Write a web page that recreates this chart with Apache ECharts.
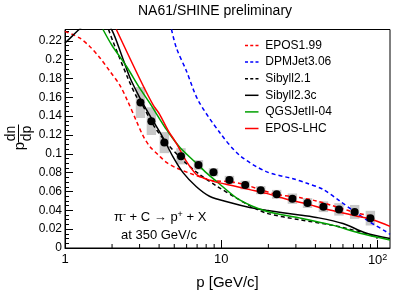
<!DOCTYPE html>
<html><head><meta charset="utf-8">
<script src="https://cdn.jsdelivr.net/npm/echarts@6/dist/echarts.min.js"></script>
<style>html,body{margin:0;padding:0;background:#fff}#c{width:407px;height:295px}</style>
</head><body><div id="c"></div>
<script>
// Measured data points (NA61/SHINE preliminary)
const dataP = [3.04,3.57,4.32,5.52,7.14,8.91,11.27,14.22,17.87,22.6,28.5,35.6,45.0,56.6,71.3,89.9];
const dataV = [0.1544,0.1347,0.1119,0.0974,0.0881,0.0804,0.0723,0.0668,0.0614,0.0570,0.0524,0.0477,0.0438,0.0410,0.0383,0.0317];
const dataSys = [0.0164,0.0147,0.0112,0.0086,0.0052,0.0043,0.0043,0.0047,0.0043,0.0047,0.0055,0.0052,0.0057,0.0066,0.0074,0.0078];

// Model predictions
const epos199P = [1.0,1.24,1.44,1.67,1.93,2.24,2.5,2.86,3.16,3.48,4.0,4.45,5.16,6.28,7.64,8.8,11.3,14.0,17.6,22.5,31.7,40.6,51.6,68.7,90];
const epos199V = [0.230,0.223,0.214,0.202,0.188,0.173,0.157,0.135,0.119,0.108,0.098,0.091,0.085,0.0794,0.0745,0.0715,0.0705,0.0675,0.0622,0.0570,0.0535,0.050,0.0449,0.0385,0.034];

const dpmP = [4.8,5.16,5.98,7.1,9.77,13.1,19.4,28.8,35,44.8,57.2,69.5,89.3,113.8,120];
const dpmV = [0.232,0.2124,0.188,0.157,0.1226,0.0984,0.0811,0.0735,0.069,0.0622,0.050,0.0398,0.0276,0.0172,0.0145];

const sib21P = [1.9,2.03,2.53,2.86,3.08,3.66,4.45,5.69,7.27,9.3,12.5,15.2,19.4,31.6,51.9,84,100];
const sib21V = [0.232,0.219,0.180,0.161,0.154,0.131,0.112,0.093,0.078,0.066,0.053,0.045,0.037,0.030,0.024,0.0155,0.0104];

const sib23P = [1.0,1.12,1.25,1.5,1.75,2.0,2.3,2.6,3.0,3.48,4.24,4.9,5.69,6.93,8.4,11.5,15.2,19.4,31.6,42,60,84,120];
const sib23V = [0.2176,0.2255,0.233,0.244,0.244,0.231,0.205,0.181,0.160,0.141,0.117,0.097,0.080,0.065,0.055,0.048,0.043,0.040,0.035,0.032,0.026,0.016,0.010];

const qgsP = [1.75,2.0,2.47,3.0,3.48,4.0,4.45,5.42,6.93,8.0,9.75,13.1,19.4,31.6,52,76,120];
const qgsV = [0.232,0.215,0.193,0.170,0.154,0.138,0.126,0.107,0.090,0.080,0.068,0.051,0.039,0.032,0.024,0.016,0.0085];

const eposLhcP = [2.13,3.0,3.66,4.03,4.56,5.16,5.98,6.93,7.5,8.8,11.9,15.2,19.4,27.4,35,45,57,73,93,120];
const eposLhcV = [0.232,0.180,0.152,0.142,0.125,0.111,0.092,0.078,0.075,0.071,0.066,0.062,0.058,0.051,0.047,0.042,0.038,0.034,0.030,0.023];

// Axis ticks
const xMinorTicks = [2,3,4,5,6,7,8,9,20,30,40,50,60,70,80,90];

const zip = (a, b) => a.map((x, i) => [x, b[i]]);
const FONT = 'Liberation Sans, Arial, Helvetica, sans-serif';
const ICON_DASH = 'path://M0,0h4v2h-4zM7,0h4v2h-4zM14,0h4v2h-4z';
const ICON_SOLID = 'path://M0,0h18v2h-18z';

const chart = echarts.init(document.getElementById('c'), null, {renderer: 'canvas'});

function model(name, P, V, color, type) {
  return {
    name, type: 'line', data: zip(P, V), showSymbol: false, symbol: 'none',
    smooth: 0.3, clip: true, z: 3,
    lineStyle: {color, width: 1.5, type: type},
    itemStyle: {color}
  };
}

const legendNames = ['EPOS1.99','DPMJet3.06','Sibyll2.1','Sibyll2.3c','QGSJetII-04','EPOS-LHC'];
const legendDashed = [true, true, true, false, false, false];

const option = {
  animation: false,
  backgroundColor: '#fff',
  textStyle: {fontFamily: FONT},
  title: {
    text: 'NA61/SHINE preliminary', top: 4, left: 138, padding: 0,
    textStyle: {fontFamily: FONT, fontSize: 14, fontWeight: 'normal', color: '#000'}
  },
  grid: {left: 65, right: 17, top: 29.5, bottom: 41.7, show: true, borderColor: '#000', borderWidth: 1, backgroundColor: 'transparent'},
  legend: {
    orient: 'vertical', left: 240, top: 34.5, itemWidth: 17, itemHeight: 1.5, itemGap: 4.6,
    data: legendNames.map((n, i) => ({name: n, icon: legendDashed[i] ? ICON_DASH : ICON_SOLID})),
    textStyle: {fontFamily: FONT, fontSize: 12, color: '#000', lineHeight: 12},
    selectedMode: false
  },
  xAxis: {
    type: 'log', logBase: 10, min: 1, max: 120,
    name: 'p [GeV/c]', nameLocation: 'middle', nameGap: 27,
    nameTextStyle: {fontFamily: FONT, fontSize: 15, color: '#000'},
    axisLine: {lineStyle: {color: '#000', width: 1}},
    axisTick: {show: true, inside: true, length: 8, lineStyle: {color: '#000'}},
    splitLine: {show: false},
    axisLabel: {
      fontFamily: FONT, fontSize: 13, color: '#000', margin: 5, showMaxLabel: false,
      formatter: v => v === 100 ? '10{s|2}' : String(v),
      rich: {s: {fontSize: 9, verticalAlign: 'top', padding: [0,0,6,0], fontFamily: FONT}}
    }
  },
  yAxis: {
    type: 'value', min: 0, max: 0.232, interval: 0.02,
    axisLine: {show: true, lineStyle: {color: '#000', width: 1}},
    axisTick: {show: true, inside: true, length: 8, lineStyle: {color: '#000'}},
    minorTick: {show: true, splitNumber: 4, length: 4, lineStyle: {color: '#000'}},
    splitLine: {show: false},
    axisLabel: {
      fontFamily: FONT, fontSize: 12, color: '#000', margin: 3, showMaxLabel: false,
      formatter: v => String(+v.toFixed(3))
    }
  },
  series: [
    {
      name: 'xticks', type: 'custom', data: xMinorTicks.map(v => [v, 0]), z: 5, silent: true,
      renderItem: (params, api) => {
        const pt = api.coord([api.value(0), 0]);
        return {type: 'line', shape: {x1: pt[0], y1: pt[1], x2: pt[0], y2: pt[1] - 4}, style: {stroke: '#000', lineWidth: 1}};
      }
    },
    {
      name: 'sys', type: 'custom', z: 1, silent: true,
      data: dataP.map((p, i) => [p, dataV[i], dataSys[i]]),
      renderItem: (params, api) => {
        const p = api.value(0), v = api.value(1), e = api.value(2);
        const top = api.coord([p, v + e]);
        const bot = api.coord([p, v - e]);
        const hw = 4.7;
        return {type: 'rect', shape: {x: top[0] - hw, y: top[1], width: 2 * hw, height: bot[1] - top[1]}, style: {fill: '#c8c8c8'}};
      }
    },
    model('EPOS1.99', epos199P, epos199V, '#ff0000', [4, 3]),
    model('DPMJet3.06', dpmP, dpmV, '#0000ff', [4, 3]),
    model('Sibyll2.1', sib21P, sib21V, '#000000', [4, 3]),
    model('Sibyll2.3c', sib23P, sib23V, '#000000', 'solid'),
    model('QGSJetII-04', qgsP, qgsV, '#00a000', 'solid'),
    model('EPOS-LHC', eposLhcP, eposLhcV, '#ff0000', 'solid'),
    {
      name: 'data', type: 'scatter', data: zip(dataP, dataV), symbol: 'circle', symbolSize: 8, z: 6,
      itemStyle: {color: '#000', opacity: 1}
    }
  ],
  graphic: [
    {type: 'text', left: 114, top: 210, style: {
      text: '{n|π}{sup|-}{n| + C → p}{sup|+}{n| + X}', fill: '#000',
      rich: {n: {fontFamily: FONT, fontSize: 13, fill: '#000'}, sup: {fontFamily: FONT, fontSize: 9, verticalAlign: 'top', padding: [0,0,6,0], fill: '#000'}}
    }},
    {type: 'text', left: 121, top: 229, style: {text: 'at 350 GeV/c', font: '13px ' + FONT, fill: '#000'}},
    {type: 'text', x: 20, y: 146, rotation: Math.PI / 2, style: {text: 'p', font: '15px ' + FONT, fill: '#000', align: 'center', verticalAlign: 'middle'}},
    {type: 'text', x: 11, y: 133.5, rotation: Math.PI / 2, style: {text: 'dn', font: '14px ' + FONT, fill: '#000', align: 'center', verticalAlign: 'middle'}},
    {type: 'text', x: 27, y: 133.5, rotation: Math.PI / 2, style: {text: 'dp', font: '14px ' + FONT, fill: '#000', align: 'center', verticalAlign: 'middle'}},
    {type: 'line', shape: {x1: 18.5, y1: 124.5, x2: 18.5, y2: 142.5}, style: {stroke: '#000', lineWidth: 1}}
  ]
};
chart.setOption(option);
</script>
</body></html>
